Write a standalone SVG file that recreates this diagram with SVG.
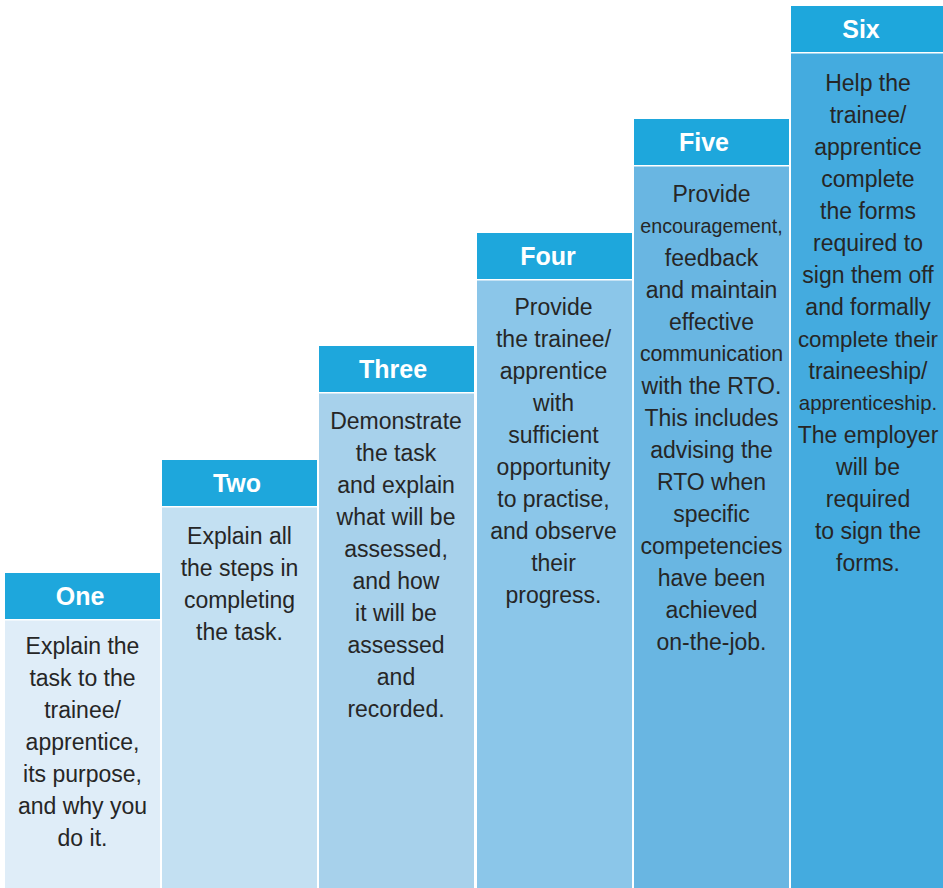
<svg xmlns="http://www.w3.org/2000/svg" width="943" height="888" viewBox="0 0 943 888">
<style>
.hd{fill:#1ea7dc}
.ht{font-family:"Liberation Sans",Arial,sans-serif;font-weight:bold;font-size:25px;fill:#ffffff;text-anchor:middle}
.bt{font-family:"Liberation Sans",Arial,sans-serif;font-size:23px;fill:#262626;text-anchor:middle}
</style>
<rect width="943" height="888" fill="#ffffff"/>
<g id="step-one">
<rect class="hd" x="5" y="573" width="155" height="46"/>
<rect x="5" y="620.5" width="155" height="267.5" fill="#dfedf8"/>
<text class="ht" x="80" y="605">One</text>
<text class="bt" x="82.5" y="654">Explain the</text>
<text class="bt" x="82.5" y="686">task to the</text>
<text class="bt" x="82.5" y="718">trainee/</text>
<text class="bt" x="82.5" y="750">apprentice,</text>
<text class="bt" x="82.5" y="782">its purpose,</text>
<text class="bt" x="82.5" y="814">and why you</text>
<text class="bt" x="82.5" y="846">do it.</text>
</g>
<g id="step-two">
<rect class="hd" x="162" y="460" width="155" height="46"/>
<rect x="162" y="507.5" width="155" height="380.5" fill="#c3e0f2"/>
<text class="ht" x="237" y="492">Two</text>
<text class="bt" x="239.5" y="544">Explain all</text>
<text class="bt" x="239.5" y="576">the steps in</text>
<text class="bt" x="239.5" y="608">completing</text>
<text class="bt" x="239.5" y="640">the task.</text>
</g>
<g id="step-three">
<rect class="hd" x="319" y="346" width="155" height="46"/>
<rect x="319" y="393.5" width="155" height="494.5" fill="#a7d1eb"/>
<text class="ht" x="393" y="378">Three</text>
<text class="bt" x="396" y="429">Demonstrate</text>
<text class="bt" x="396" y="461">the task</text>
<text class="bt" x="396" y="493">and explain</text>
<text class="bt" x="396" y="525">what will be</text>
<text class="bt" x="396" y="557">assessed,</text>
<text class="bt" x="396" y="589">and how</text>
<text class="bt" x="396" y="621">it will be</text>
<text class="bt" x="396" y="653">assessed</text>
<text class="bt" x="396" y="685">and</text>
<text class="bt" x="396" y="717">recorded.</text>
</g>
<g id="step-four">
<rect class="hd" x="477" y="233" width="155" height="46"/>
<rect x="477" y="280.5" width="155" height="607.5" fill="#8bc6e9"/>
<text class="ht" x="548" y="265">Four</text>
<text class="bt" x="553.5" y="315">Provide</text>
<text class="bt" x="553.5" y="347">the trainee/</text>
<text class="bt" x="553.5" y="379">apprentice</text>
<text class="bt" x="553.5" y="411">with</text>
<text class="bt" x="553.5" y="443">sufficient</text>
<text class="bt" x="553.5" y="475">opportunity</text>
<text class="bt" x="553.5" y="507">to practise,</text>
<text class="bt" x="553.5" y="539">and observe</text>
<text class="bt" x="553.5" y="571">their</text>
<text class="bt" x="553.5" y="603">progress.</text>
</g>
<g id="step-five">
<rect class="hd" x="634" y="119" width="155" height="46"/>
<rect x="634" y="166.5" width="155" height="721.5" fill="#69b6e2"/>
<text class="ht" x="704" y="151">Five</text>
<text class="bt" x="711.5" y="202">Provide</text>
<text class="bt" x="711.5" y="233" style="font-size:19.7px">encouragement,</text>
<text class="bt" x="711.5" y="266">feedback</text>
<text class="bt" x="711.5" y="298">and maintain</text>
<text class="bt" x="711.5" y="330">effective</text>
<text class="bt" x="711.5" y="361" style="font-size:21.3px">communication</text>
<text class="bt" x="711.5" y="394">with the RTO.</text>
<text class="bt" x="711.5" y="426">This includes</text>
<text class="bt" x="711.5" y="458">advising the</text>
<text class="bt" x="711.5" y="490">RTO when</text>
<text class="bt" x="711.5" y="522">specific</text>
<text class="bt" x="711.5" y="554">competencies</text>
<text class="bt" x="711.5" y="586">have been</text>
<text class="bt" x="711.5" y="618">achieved</text>
<text class="bt" x="711.5" y="650">on-the-job.</text>
</g>
<g id="step-six">
<rect class="hd" x="791" y="6" width="152" height="46"/>
<rect x="791" y="53.5" width="152" height="834.5" fill="#44abdf"/>
<text class="ht" x="861" y="38">Six</text>
<text class="bt" x="868" y="91">Help the</text>
<text class="bt" x="868" y="123">trainee/</text>
<text class="bt" x="868" y="155">apprentice</text>
<text class="bt" x="868" y="187">complete</text>
<text class="bt" x="868" y="219">the forms</text>
<text class="bt" x="868" y="251">required to</text>
<text class="bt" x="868" y="283">sign them off</text>
<text class="bt" x="868" y="315">and formally</text>
<text class="bt" x="868" y="347" style="font-size:22.3px">complete their</text>
<text class="bt" x="868" y="379">traineeship/</text>
<text class="bt" x="868" y="410" style="font-size:20.4px">apprenticeship.</text>
<text class="bt" x="868" y="443">The employer</text>
<text class="bt" x="868" y="475">will be</text>
<text class="bt" x="868" y="507">required</text>
<text class="bt" x="868" y="539">to sign the</text>
<text class="bt" x="868" y="571">forms.</text>
</g>
<g id="connectors"></g>
</svg>
